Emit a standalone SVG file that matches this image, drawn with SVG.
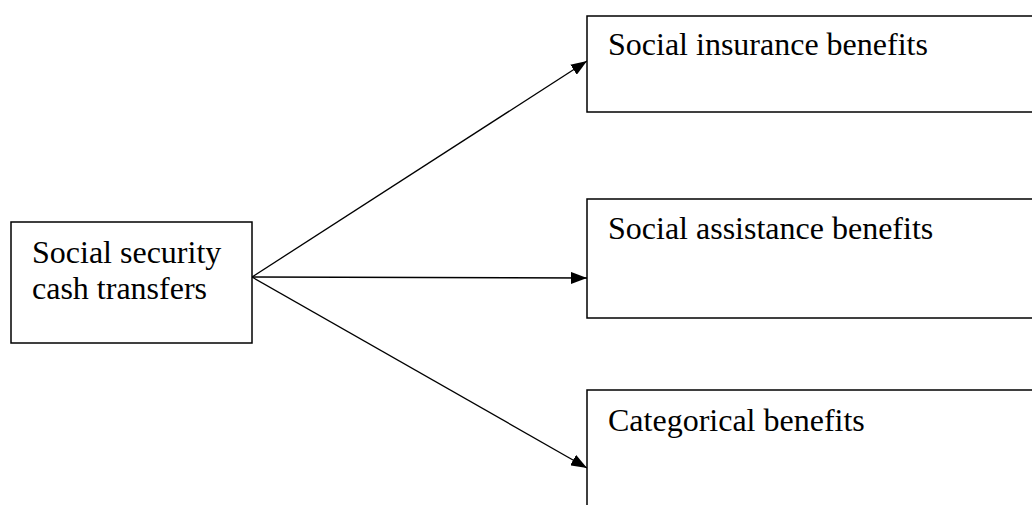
<svg xmlns="http://www.w3.org/2000/svg" width="1032" height="505" viewBox="0 0 1032 505">
<style>
.box{fill:#fff;stroke:#000;stroke-width:1.5}
.lbl{font-family:"Liberation Serif","Times New Roman",serif;font-size:32px;fill:#000}
.conn{stroke:#000;stroke-width:1.3;fill:none}
</style>
<defs>
<marker id="ah" viewBox="0 0 16 12" refX="16" refY="6" markerWidth="16" markerHeight="12" markerUnits="userSpaceOnUse" orient="auto">
<path d="M0,0 L16,6 L0,12 z" fill="#000"/>
</marker>
</defs>
<g id="connectors">
<line class="conn" x1="252" y1="277" x2="587" y2="61" marker-end="url(#ah)"/>
<line class="conn" x1="252" y1="277" x2="587" y2="278" marker-end="url(#ah)"/>
<line class="conn" x1="252" y1="277" x2="587" y2="468" marker-end="url(#ah)"/>
</g>
<g id="source">
<rect class="box" x="11" y="222" width="241" height="121"/>
<text class="lbl" x="32" y="263">Social security</text>
<text class="lbl" x="32" y="299">cash transfers</text>
</g>
<g id="insurance">
<rect class="box" x="587" y="16" width="460" height="96"/>
<text class="lbl" x="608" y="55">Social insurance benefits</text>
</g>
<g id="assistance">
<rect class="box" x="587" y="199" width="460" height="119"/>
<text class="lbl" x="608" y="239">Social assistance benefits</text>
</g>
<g id="categorical">
<rect class="box" x="587" y="390" width="460" height="130"/>
<text class="lbl" x="608" y="431">Categorical benefits</text>
</g>
</svg>
